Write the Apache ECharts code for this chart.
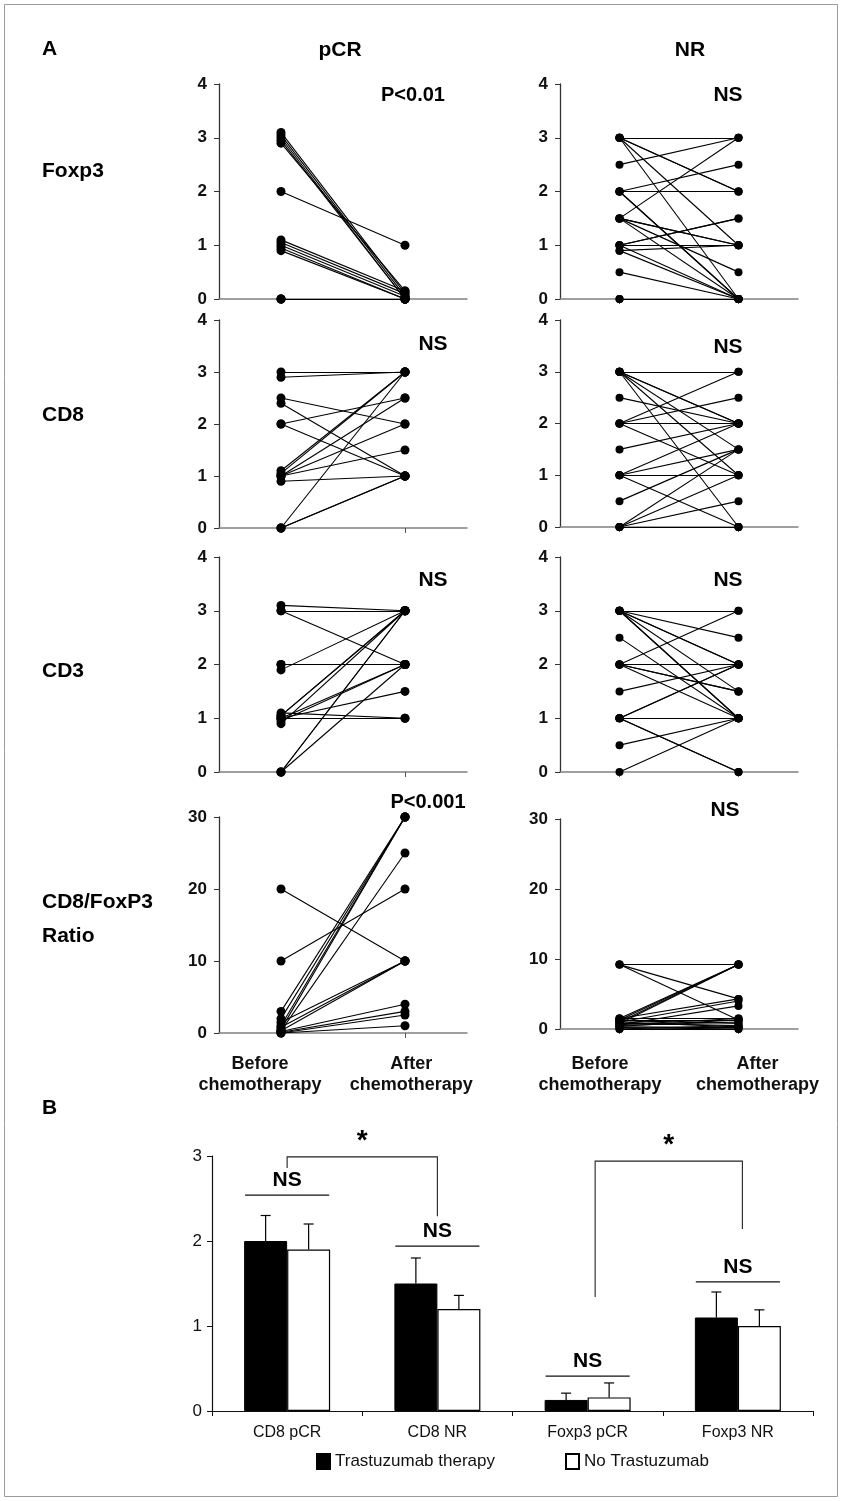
<!DOCTYPE html>
<html><head><meta charset="utf-8">
<script src="https://cdn.jsdelivr.net/npm/echarts@6/dist/echarts.min.js"></script>
<style>html,body{margin:0;padding:0;background:#fff}#c{width:842px;height:1501px}</style>
</head><body><div id="c"></div>
<script>
const FONT = '"Liberation Sans", Arial, sans-serif';

// ---------- Panel A: paired patient values (before, after chemotherapy) ----------
const foxp3_pCR_before = [3.1, 3.05, 3.0, 2.95, 2.9, 2.0, 1.1, 1.05, 1.0, 0.95, 0.9, 0, 0, 0];
const foxp3_pCR_after  = [0.1, 0.05, 0, 0, 0.15, 1.0, 0.15, 0.1, 0.05, 0, 0, 0, 0, 0];

const foxp3_NR_before = [3, 3, 3, 3, 3, 2.5, 2, 2, 2, 2, 1.5, 1.5, 1.5, 1.5, 1.5, 1, 1, 1, 1, 0.9, 0.9, 0.5, 0, 0];
const foxp3_NR_after  = [3, 2, 2, 1, 0, 3, 2.5, 2, 0, 0, 3, 1, 1, 0.5, 0, 1.5, 1.5, 1, 0, 1, 0, 0, 0, 0];

const cd8_pCR_before = [3.0, 2.9, 2.5, 2.4, 2.0, 2.0, 1.1, 1.05, 1.0, 1.0, 1.0, 0.9, 0, 0, 0];
const cd8_pCR_after  = [3, 3, 2, 1, 2.5, 1, 3, 3, 2.5, 2, 1.5, 1, 3, 1, 1];

const cd8_NR_before = [3, 3, 3, 3, 3, 3, 2.5, 2, 2, 2, 2, 1.5, 1, 1, 1, 1, 0.5, 0, 0, 0, 0];
const cd8_NR_after  = [3, 2, 2, 1.5, 1, 0, 2, 3, 2.5, 2, 1, 2, 2, 1.5, 1, 0, 1.5, 1, 0.5, 0, 1.5];

const cd3_pCR_before = [3.1, 3.0, 3.0, 2.0, 2.0, 1.9, 1.1, 1.05, 1.05, 1.0, 1.0, 1.0, 0.95, 0.9, 0, 0, 0];
const cd3_pCR_after  = [3, 3, 2, 2, 2, 3, 1, 3, 3, 2, 1.5, 1, 2, 3, 3, 3, 2];

const cd3_NR_before = [3, 3, 3, 3, 3, 3, 3, 2.5, 2, 2, 2, 2, 2, 1.5, 1, 1, 1, 1, 1, 1, 0.5, 0];
const cd3_NR_after  = [3, 2.5, 2, 2, 1.5, 1, 1, 1, 3, 2, 1.5, 1.5, 1, 2, 2, 2, 1, 1, 0, 0, 1, 1];

const ratio_pCR_before = [20, 10, 3, 2, 1, 0.5, 0.3, 1.5, 0.8, 0.3, 0.2, 0.1, 0, 0];
const ratio_pCR_after  = [10, 20, 30, 30, 30, 30, 25, 10, 10, 10, 4, 3, 2.5, 1];

const ratio_NR_before = [9.2, 9.2, 9.2, 1.5, 1.3, 1.0, 0.8, 1.5, 1.0, 0.6, 1.5, 1.2, 0.8, 0.5, 0.3, 0.2, 0, 0, 1.2, 0.6, 0.4, 1.0];
const ratio_NR_after  = [9.2, 4.3, 1.3, 9.2, 9.2, 9.2, 9.2, 4.3, 4.0, 3.3, 1.5, 1.2, 0.5, 1.0, 0.2, 0, 0.5, 0, 0.8, 1.5, 1.3, 0.3];

const timepoints = ['Before\nchemotherapy', 'After\nchemotherapy'];
const scoreTicks = [0, 1, 2, 3, 4];
const ratioTicks = [0, 10, 20, 30];

// ---------- Panel B: means and upper error bars ----------
const bCategories = ['CD8 pCR', 'CD8 NR', 'Foxp3 pCR', 'Foxp3 NR'];
const trastuzumabMean = [2.0, 1.5, 0.13, 1.1];
const trastuzumabErr  = [2.3, 1.8, 0.21, 1.4];
const noTrastuzumabMean = [1.9, 1.2, 0.16, 1.0];
const noTrastuzumabErr  = [2.2, 1.36, 0.33, 1.19];
// NS bars: [category, level]; significance brackets: [leftCat, leftLow, rightCat, rightLow, top]
const nsLevels = [[0, 2.54], [1, 1.94], [2, 0.41], [3, 1.52]];
const brackets = [[0, 2.86, 1, 2.29, 2.99], [2.05, 1.34, 3.03, 2.14, 2.94]];

const chart = echarts.init(document.getElementById('c'), null, {renderer: 'canvas'});

const panels = [
  {b: foxp3_pCR_before, a: foxp3_pCR_after, col: 0, row: 0},
  {b: foxp3_NR_before,  a: foxp3_NR_after,  col: 1, row: 0},
  {b: cd8_pCR_before,   a: cd8_pCR_after,   col: 0, row: 1},
  {b: cd8_NR_before,    a: cd8_NR_after,    col: 1, row: 1},
  {b: cd3_pCR_before,   a: cd3_pCR_after,   col: 0, row: 2},
  {b: cd3_NR_before,    a: cd3_NR_after,    col: 1, row: 2},
  {b: ratio_pCR_before, a: ratio_pCR_after, col: 0, row: 3},
  {b: ratio_NR_before,  a: ratio_NR_after,  col: 1, row: 3}
];
const colLayout = [{left: 219, width: 248}, {left: 560, width: 238}];
const rowLayout = [
  [{top: 84, height: 215}, {top: 84, height: 215}],
  [{top: 320, height: 208}, {top: 320, height: 207}],
  [{top: 557, height: 215}, {top: 557, height: 215}],
  [{top: 817, height: 216}, {top: 819, height: 210}]
];
// where the two timepoint captions sit along each column's x axis
const captionPos = [[0.83, 2.05], [0.836, 2.16]];

const grids = [], xAxes = [], yAxes = [], series = [];
panels.forEach((p, i) => {
  const isRatio = p.row === 3;
  grids.push(Object.assign({}, colLayout[p.col], rowLayout[p.row][p.col]));
  xAxes.push({
    gridIndex: i, type: 'value', min: 0.5, max: 2.5,
    axisLine: {show: true, lineStyle: {color: '#808080', width: 1.5}},
    axisTick: {show: true, customValues: [1, 2], length: 5, lineStyle: {color: '#555', width: 1}},
    axisLabel: {show: isRatio, customValues: captionPos[p.col], hideOverlap: false,
      showMinLabel: true, showMaxLabel: true,
      margin: p.col === 0 ? 21 : 25, color: '#111',
      fontFamily: FONT, fontWeight: 'bold', fontSize: 18, lineHeight: 21,
      formatter: v => timepoints[v < 1.5 ? 0 : 1]},
    splitLine: {show: false}
  });
  const ticks = isRatio ? ratioTicks : scoreTicks;
  yAxes.push({
    gridIndex: i, type: 'value', min: ticks[0], max: ticks[ticks.length - 1],
    interval: ticks[1] - ticks[0],
    axisLine: {show: true, lineStyle: {color: '#333', width: 1.3}},
    axisTick: {show: true, length: 5, lineStyle: {color: '#333'}},
    axisLabel: {margin: 12, color: '#111', fontFamily: FONT, fontWeight: 'bold', fontSize: 17,
      hideOverlap: false, showMinLabel: true, showMaxLabel: true},
    splitLine: {show: false}
  });
  series.push({
    type: 'lines', coordinateSystem: 'cartesian2d', xAxisIndex: i, yAxisIndex: i,
    silent: true, clip: false, z: 2,
    lineStyle: {color: '#000', width: 1.1, opacity: 1, curveness: 0},
    data: p.b.map((v, k) => ({coords: [[1, v], [2, p.a[k]]]}))
  });
  series.push({
    type: 'scatter', xAxisIndex: i, yAxisIndex: i, clip: false, silent: true, z: 3,
    symbol: 'circle', symbolSize: p.col === 0 ? 9 : 8,
    itemStyle: {color: '#000', opacity: 1},
    data: p.b.map(v => [1, v]).concat(p.a.map(v => [2, v]))
  });
});

// Panel B grid
const bi = grids.length;
grids.push({left: 212, top: 1156, width: 601, height: 255});
xAxes.push({
  gridIndex: bi, type: 'category', data: bCategories,
  axisLine: {show: true, lineStyle: {color: '#111', width: 1.2}},
  axisTick: {show: true, length: 5, lineStyle: {color: '#111'}},
  axisLabel: {margin: 14, color: '#111', fontFamily: FONT, fontSize: 16}
});
yAxes.push({
  gridIndex: bi, type: 'value', min: 0, max: 3, interval: 1,
  axisLine: {show: true, lineStyle: {color: '#111', width: 1.2}},
  axisTick: {show: true, length: 5, lineStyle: {color: '#111'}},
  axisLabel: {margin: 10, color: '#111', fontFamily: FONT, fontSize: 17},
  splitLine: {show: false}
});
series.push({
  name: 'Trastuzumab therapy', type: 'bar', xAxisIndex: bi, yAxisIndex: bi,
  barWidth: 43, barGap: '0%', data: trastuzumabMean,
  itemStyle: {color: '#000', borderColor: '#000', borderWidth: 1}
});
series.push({
  name: 'No Trastuzumab', type: 'bar', xAxisIndex: bi, yAxisIndex: bi,
  barWidth: 43, barGap: '0%', data: noTrastuzumabMean,
  itemStyle: {color: '#fff', borderColor: '#000', borderWidth: 1.2}
});
// Error bars (upper only, with cap)
const errData = [];
trastuzumabMean.forEach((m, k) => errData.push([k, m, trastuzumabErr[k], -1]));
noTrastuzumabMean.forEach((m, k) => errData.push([k, m, noTrastuzumabErr[k], 1]));
series.push({
  type: 'custom', xAxisIndex: bi, yAxisIndex: bi, silent: true, z: 5,
  data: errData,
  renderItem: (params, api) => {
    const c = api.value(0), off = api.value(3) * 21.5;
    const p0 = api.coord([c, api.value(1)]), p1 = api.coord([c, api.value(2)]);
    const x = p0[0] + off;
    const st = {stroke: '#000', lineWidth: 1.2};
    return {type: 'group', children: [
      {type: 'line', shape: {x1: x, y1: p0[1], x2: x, y2: p1[1]}, style: st},
      {type: 'line', shape: {x1: x - 5, y1: p1[1], x2: x + 5, y2: p1[1]}, style: st}
    ]};
  }
});
// NS bars
series.push({
  type: 'custom', xAxisIndex: bi, yAxisIndex: bi, silent: true, z: 5,
  data: nsLevels,
  renderItem: (params, api) => {
    const p = api.coord([api.value(0), api.value(1)]);
    const bw = api.size([1, 0])[0];
    const half = bw * 0.28;
    return {type: 'group', children: [
      {type: 'line', shape: {x1: p[0] - half, y1: p[1], x2: p[0] + half, y2: p[1]}, style: {stroke: '#111', lineWidth: 1.2}},
      {type: 'text', x: p[0], y: p[1] - 4, style: {text: 'NS', fontFamily: FONT, fontWeight: 'bold', fontSize: 21, fill: '#000', align: 'center', verticalAlign: 'bottom'}}
    ]};
  }
});
// Significance brackets
series.push({
  type: 'custom', xAxisIndex: bi, yAxisIndex: bi, silent: true, z: 5,
  data: brackets,
  renderItem: (params, api) => {
    const bw = api.size([1, 0])[0];
    const base = api.coord([0, 0]);
    const xOf = c => base[0] + c * bw;
    const yOf = v => api.coord([0, v])[1];
    const xl = xOf(api.value(0)), xr = xOf(api.value(2)), yt = yOf(api.value(4));
    const st = {stroke: '#222', lineWidth: 1.1, fill: null};
    return {type: 'group', children: [
      {type: 'polyline', shape: {points: [[xl, yOf(api.value(1))], [xl, yt], [xr, yt], [xr, yOf(api.value(3))]]}, style: st},
      {type: 'text', x: (xl + xr) / 2, y: yt - 2, style: {text: '*', fontFamily: FONT, fontWeight: 'bold', fontSize: 28, fill: '#000', align: 'center', verticalAlign: 'bottom'}}
    ]};
  }
});

const txt = (x, y, text, size, align) => ({type: 'text', x, y,
  style: {text, fontFamily: FONT, fontWeight: 'bold', fontSize: size, fill: '#000', align: align || 'left', verticalAlign: 'middle'}});

const option = {
  animation: false,
  backgroundColor: '#fff',
  grid: grids, xAxis: xAxes, yAxis: yAxes, series,
  legend: [
    {left: 316, top: 1453, padding: 0, data: ['Trastuzumab therapy'], icon: 'rect', itemWidth: 13, itemHeight: 15, itemGap: 6,
      textStyle: {fontFamily: FONT, fontSize: 17, color: '#111'}, selectedMode: false},
    {left: 565, top: 1453, padding: 0, data: ['No Trastuzumab'], icon: 'rect', itemWidth: 13, itemHeight: 15, itemGap: 6,
      textStyle: {fontFamily: FONT, fontSize: 17, color: '#111'}, selectedMode: false}
  ],
  graphic: [
    {type: 'rect', shape: {x: 4.5, y: 4.5, width: 833, height: 1492}, style: {fill: null, stroke: '#9a9a9a', lineWidth: 1}},
    txt(42, 49, 'A', 21), txt(340, 50, 'pCR', 21, 'center'), txt(690, 50, 'NR', 21, 'center'),
    txt(42, 171, 'Foxp3', 21), txt(42, 415, 'CD8', 21), txt(42, 671, 'CD3', 21),
    txt(42, 902, 'CD8/FoxP3', 21), txt(42, 936, 'Ratio', 21),
    txt(42, 1108, 'B', 21),
    txt(413, 95, 'P<0.01', 20, 'center'), txt(728, 95, 'NS', 21, 'center'),
    txt(433, 344, 'NS', 21, 'center'), txt(728, 347, 'NS', 21, 'center'),
    txt(433, 580, 'NS', 21, 'center'), txt(728, 580, 'NS', 21, 'center'),
    txt(428, 802, 'P<0.001', 20, 'center'), txt(725, 810, 'NS', 21, 'center')
  ]
};
chart.setOption(option);
</script></body></html>
